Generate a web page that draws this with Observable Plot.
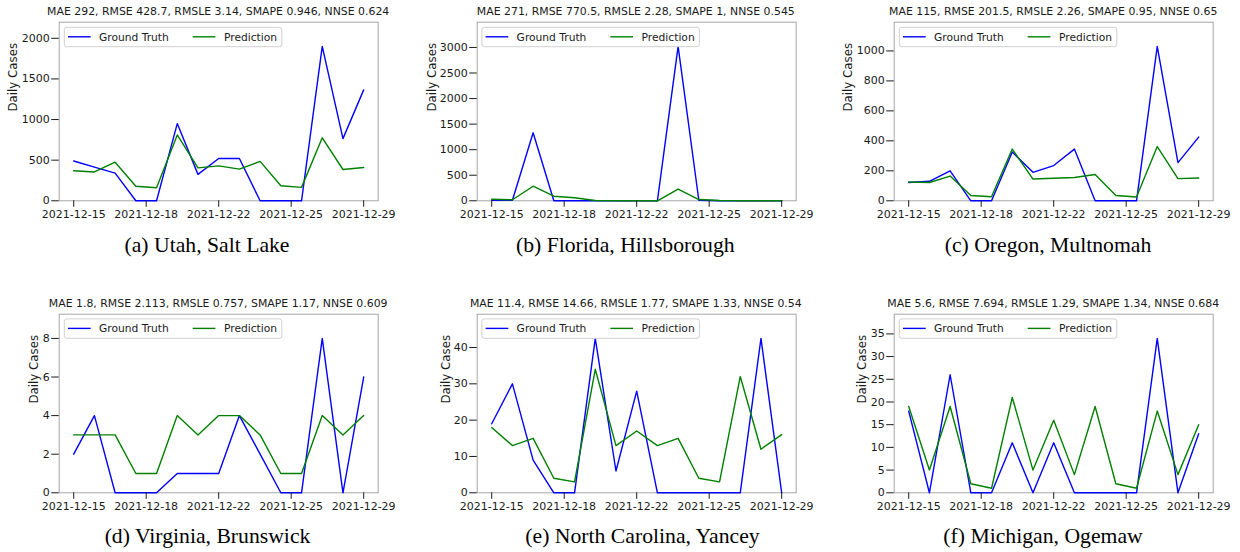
<!DOCTYPE html>
<html>
<head>
<meta charset="utf-8">
<script src="https://cdn.jsdelivr.net/npm/d3@7"></script>
<script src="https://cdn.jsdelivr.net/npm/@observablehq/plot@0.6"></script>
<style>
  body { margin: 0; background: #fff; }
  #fig { position: relative; width: 1240px; height: 552px; overflow: hidden; background: #fff; }
  .panel { position: absolute; }
  #overlay { position: absolute; left: 0; top: 0; pointer-events: none; }
</style>
</head>
<body>
<div id="fig"></div>
<script>
// ---------------- data ----------------
const dates = ["2021-12-15","2021-12-16","2021-12-17","2021-12-18","2021-12-19","2021-12-20","2021-12-21",
               "2021-12-22","2021-12-23","2021-12-24","2021-12-25","2021-12-26","2021-12-27","2021-12-28","2021-12-29"];
const tickDates = ["2021-12-15T00:00Z","2021-12-18T12:00Z","2021-12-22T00:00Z","2021-12-25T12:00Z","2021-12-29T00:00Z"];
const tickLabels = ["2021-12-15","2021-12-18","2021-12-22","2021-12-25","2021-12-29"];

const seriesNames = ["Ground Truth", "Prediction"];
const yLabel = "Daily Cases";

const titles = [
  "MAE 292, RMSE 428.7, RMSLE 3.14, SMAPE 0.946, NNSE 0.624",
  "MAE 271, RMSE 770.5, RMSLE 2.28, SMAPE 1, NNSE 0.545",
  "MAE 115, RMSE 201.5, RMSLE 2.26, SMAPE 0.95, NNSE 0.65",
  "MAE 1.8, RMSE 2.113, RMSLE 0.757, SMAPE 1.17, NNSE 0.609",
  "MAE 11.4, RMSE 14.66, RMSLE 1.77, SMAPE 1.33, NNSE 0.54",
  "MAE 5.6, RMSE 7.694, RMSLE 1.29, SMAPE 1.34, NNSE 0.684"
];
const captions = [
  "(a) Utah, Salt Lake",
  "(b) Florida, Hillsborough",
  "(c) Oregon, Multnomah",
  "(d) Virginia, Brunswick",
  "(e) North Carolina, Yancey",
  "(f) Michigan, Ogemaw"
];

const utahGT     = [490, 415, 340, 0, 0, 950, 325, 520, 520, 0, 0, 0, 1900, 765, 1365];
const utahPred   = [370, 355, 475, 178, 160, 810, 405, 430, 390, 485, 185, 165, 775, 385, 410];
const hillsGT    = [10, 10, 1330, 0, 0, 0, 0, 0, 0, 3020, 10, 0, 0, 0, 0];
const hillsPred  = [30, 20, 285, 90, 60, 5, 0, 0, 0, 230, 25, 5, 0, 0, 0];
const multGT     = [122, 130, 200, 0, 0, 325, 190, 235, 345, 0, 0, 0, 1030, 255, 425];
const multPred   = [125, 122, 165, 35, 27, 345, 145, 150, 155, 175, 35, 25, 362, 148, 152];
const brunsGT    = [2, 4, 0, 0, 0, 1, 1, 1, 4, 2, 0, 0, 8, 0, 6];
const brunsPred  = [3, 3, 3, 1, 1, 4, 3, 4, 4, 3, 1, 1, 4, 3, 4];
const yanceyGT   = [19, 30, 9, 0, 0, 42.5, 6, 28, 0, 0, 0, 0, 0, 42.5, 0];
const yanceyPred = [18, 13, 15, 4, 3, 34, 13, 17, 13, 15, 4, 3, 32, 12, 16];
const ogemawGT   = [18, 0, 26, 0, 0, 11, 0, 11, 0, 0, 0, 0, 34, 0, 13];
const ogemawPred = [19, 5, 19, 2, 1, 21, 5, 16, 4, 19, 2, 1, 18, 4, 15];

const utahTicks   = [0, 500, 1000, 1500, 2000];
const hillsTicks  = [0, 500, 1000, 1500, 2000, 2500, 3000];
const multTicks   = [0, 200, 400, 600, 800, 1000];
const brunsTicks  = [0, 2, 4, 6, 8];
const yanceyTicks = [0, 10, 20, 30, 40];
const ogemawTicks = [0, 5, 10, 15, 20, 25, 30, 35];

const panels = [
  {gt: utahGT,   pred: utahPred,   yTicks: utahTicks},
  {gt: hillsGT,  pred: hillsPred,  yTicks: hillsTicks},
  {gt: multGT,   pred: multPred,   yTicks: multTicks},
  {gt: brunsGT,  pred: brunsPred,  yTicks: brunsTicks},
  {gt: yanceyGT, pred: yanceyPred, yTicks: yanceyTicks},
  {gt: ogemawGT, pred: ogemawPred, yTicks: ogemawTicks}
];

// ---------------- layout ----------------
const colors = ["#0000ff", "#008000"];
const frameW = 319, frameH = 178.6;
const ML = 58.7, MT = 21.7, MR = 20, MB = 30;
const colLeft = [58.7, 476.3, 893.7];
const rowTop = [21.7, 313.3];
const yLabelOffset = [50.6, 49.5, 50.2, 29.6, 35.9, 36.5];
const capCenter = [207, 625.3, 1048, 207.5, 642.5, 1043];
const textColor = "#1a1a1a";
const sans = "DejaVu Sans";

const fig = document.getElementById("fig");
const labelByTime = new Map(tickDates.map((d, i) => [+new Date(d), tickLabels[i]]));
const tickValues = tickDates.map(d => new Date(d));

const svgNS = "http://www.w3.org/2000/svg";
const overlay = document.createElementNS(svgNS, "svg");
overlay.setAttribute("id", "overlay");
overlay.setAttribute("width", 1240);
overlay.setAttribute("height", 552);
function el(tag, attrs, text) {
  const e = document.createElementNS(svgNS, tag);
  for (const k in attrs) e.setAttribute(k, attrs[k]);
  if (text != null) e.textContent = text;
  overlay.appendChild(e);
  return e;
}

panels.forEach((p, i) => {
  const c = i % 3, r = Math.floor(i / 3);
  const fl = colLeft[c], ft = rowTop[r];
  const data = dates.map((d, k) => ({date: new Date(d + "T00:00Z"), gt: p.gt[k], pred: p.pred[k]}));
  const yMax = d3.max([...p.gt, ...p.pred]) * 1.157;

  const chart = Plot.plot({
    width: ML + frameW + MR,
    height: MT + frameH + MB,
    marginLeft: ML, marginTop: MT, marginRight: MR, marginBottom: MB,
    style: {fontFamily: sans, fontSize: "11px", color: textColor, background: "transparent", overflow: "visible"},
    x: {type: "utc", domain: [data[0].date, data[data.length - 1].date], insetLeft: 14.5, insetRight: 14.5},
    y: {domain: [0, yMax]},
    marks: [
      Plot.frame({stroke: "#a6a6a6", strokeWidth: 1}),
      Plot.line(data, {x: "date", y: "gt", stroke: colors[0], strokeWidth: 1.4}),
      Plot.line(data, {x: "date", y: "pred", stroke: colors[1], strokeWidth: 1.4}),
      Plot.axisX(tickValues, {tickSize: 6.5, tickPadding: 2.5, tickFormat: d => labelByTime.get(+d), label: null,
                              stroke: textColor, fill: textColor, fontSize: 11}),
      Plot.axisY(p.yTicks, {tickSize: 7.5, tickPadding: 2, tickFormat: d => String(d), label: null,
                            stroke: textColor, fill: textColor, fontSize: 11}),
      Plot.text([yLabel], {text: d => d, frameAnchor: "left", rotate: -90, lineAnchor: "top",
                           dx: -yLabelOffset[i], fontSize: 11.8, fill: textColor})
    ]
  });
  const wrap = document.createElement("div");
  wrap.className = "panel";
  wrap.style.left = (fl - ML) + "px";
  wrap.style.top = (ft - MT) + "px";
  wrap.appendChild(chart);
  fig.appendChild(wrap);

  // title
  el("text", {x: fl + frameW / 2, y: ft - 6.6, "text-anchor": "middle", "font-family": sans, "font-size": 10.9, fill: textColor}, titles[i]);
  // legend
  const lx = fl + 5.6, ly = ft + 5.6;
  el("rect", {x: lx, y: ly, width: 217.5, height: 19.4, rx: 2.5, fill: "#fff", "fill-opacity": 0.8, stroke: "#d0d0d0", "stroke-width": 1});
  const swX = [fl + 9.3, fl + 134];
  const txX = [fl + 40.3, fl + 165.3];
  seriesNames.forEach((name, j) => {
    el("line", {x1: swX[j], x2: swX[j] + 22.7, y1: ly + 9.5, y2: ly + 9.5, stroke: colors[j], "stroke-width": 1.4});
    el("text", {x: txX[j], y: ly + 13.4, "font-family": sans, "font-size": 10.7, fill: textColor}, name);
  });
  // caption
  el("text", {x: capCenter[i], y: ft + 230, "text-anchor": "middle", "font-family": "Liberation Serif", "font-size": 21.7, fill: "#000"}, captions[i]);
});
fig.appendChild(overlay);
</script>
</body>
</html>
